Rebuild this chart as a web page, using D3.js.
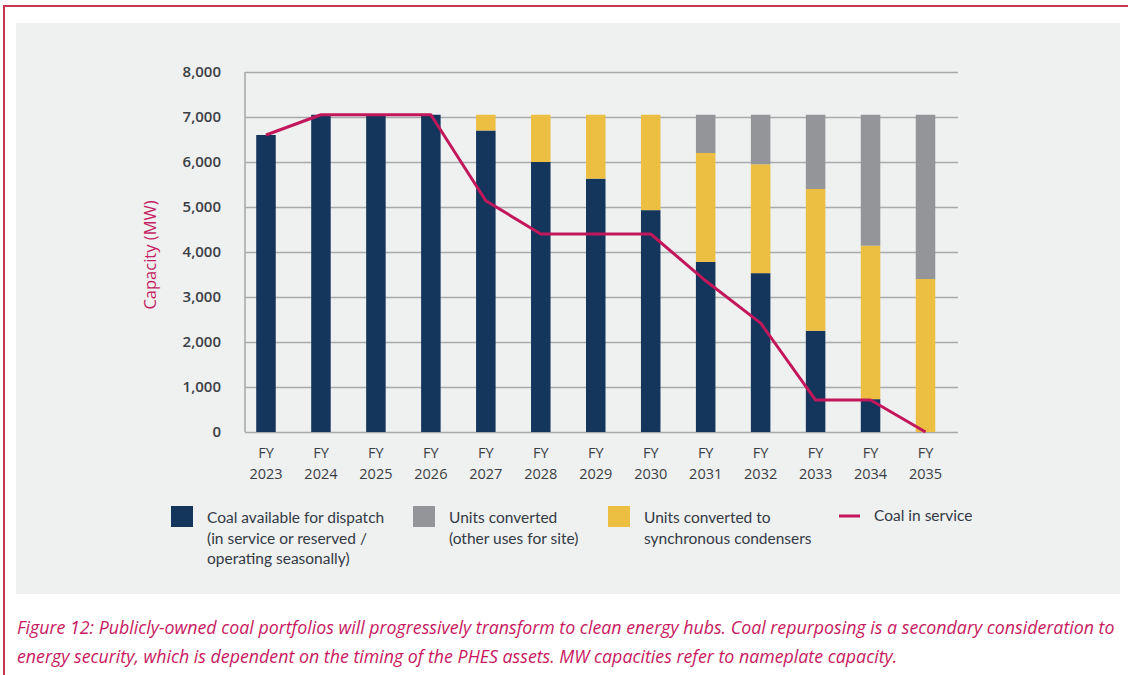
<!DOCTYPE html>
<html>
<head>
<meta charset="utf-8">
<script src="https://cdn.jsdelivr.net/npm/d3@7"></script>
<style>
  body { margin: 0; background: #fff; }
  svg { display: block; }
</style>
</head>
<body>
<div id="coal_chart"></div>
<script>
// data (MW)
const years = ["2023","2024","2025","2026","2027","2028","2029","2030","2031","2032","2033","2034","2035"];
const coalAvailable = [6600, 7050, 7050, 7050, 6700, 6000, 5630, 4930, 3780, 3530, 2250, 730, 0];
const syncCondensers = [0, 0, 0, 0, 350, 1050, 1420, 2120, 2420, 2420, 3150, 3410, 3400];
const otherUses = [0, 0, 0, 0, 0, 0, 0, 0, 850, 1100, 1650, 2910, 3650];
const coalInService = [6600, 7050, 7050, 7050, 5140, 4400, 4400, 4400, 3360, 2420, 710, 710, 0];
const yTicks = [0, 1000, 2000, 3000, 4000, 5000, 6000, 7000, 8000];
const legendItems = [
  { key: "coal", lines: ["Coal available for dispatch", "(in service or reserved /", "operating seasonally)"] },
  { key: "other", lines: ["Units converted", "(other uses for site)"] },
  { key: "sync", lines: ["Units converted to", "synchronous condensers"] },
  { key: "line", lines: ["Coal in service"] }
];
const captionLines = [
  "Figure 12: Publicly-owned coal portfolios will progressively transform to clean energy hubs. Coal repurposing is a secondary consideration to",
  "energy security, which is dependent on the timing of the PHES assets. MW capacities refer to nameplate capacity."
];

const colors = { coal: "#14365c", other: "#939598", sync: "#ecbf42", line: "#c2185b" };
const W = 1128, H = 675;
const plot = { left: 245, right: 958, top: 72, bottom: 432 };

const svg = d3.select("#coal_chart")
  .append("svg")
  .attr("width", W)
  .attr("height", H);

// frame + grey panel
svg.append("rect")
  .attr("x", 4).attr("y", 6)
  .attr("width", W + 10).attr("height", H + 10)
  .attr("fill", "#fff")
  .attr("stroke", "#c8364f")
  .attr("stroke-width", 2);

svg.append("rect")
  .attr("x", 16).attr("y", 23)
  .attr("width", 1104).attr("height", 571)
  .attr("fill", "#eff0f0");

// scales
const y = d3.scaleLinear().domain([0, 8000]).range([plot.bottom, plot.top]);
const x = d3.scaleBand()
  .domain(years)
  .range([238.5, 953])
  .paddingInner(0.645)
  .paddingOuter(0.3225);

// Y axis with gridlines
const yAxis = svg.append("g")
  .attr("transform", `translate(${plot.left},0)`)
  .call(d3.axisLeft(y).tickValues(yTicks).tickFormat(d3.format(",")).tickSize(-(plot.right - plot.left)).tickPadding(24));

yAxis.select(".domain").remove();
yAxis.selectAll(".tick line")
  .attr("stroke", "#a9aaab")
  .attr("stroke-width", 1.6);
yAxis.selectAll("text")
  .attr("fill", "#3b3f45")
  .style("font-family", "'Open Sans', sans-serif")
  .style("font-weight", 600)
  .style("font-size", "15px");

svg.append("line")
  .attr("x1", plot.left).attr("x2", plot.left)
  .attr("y1", plot.top).attr("y2", plot.bottom)
  .attr("stroke", "#a9aaab")
  .attr("stroke-width", 1.6);

svg.append("text")
  .attr("text-anchor", "middle")
  .attr("transform", `translate(156,${(plot.top + plot.bottom) / 2 + 3}) rotate(-90)`)
  .attr("fill", "#c41f62")
  .style("font-family", "'Open Sans', sans-serif")
  .style("font-size", "16.5px")
  .text("Capacity (MW)");

// X labels
const xLab = svg.append("g")
  .selectAll("g")
  .data(years)
  .join("g")
  .attr("transform", d => `translate(${x(d) + x.bandwidth() / 2},0)`);

xLab.append("text")
  .attr("y", 458)
  .attr("text-anchor", "middle")
  .text("FY");
xLab.append("text")
  .attr("y", 479)
  .attr("text-anchor", "middle")
  .text(d => d);
xLab.selectAll("text")
  .attr("fill", "#3b3f45")
  .style("font-family", "'Open Sans', sans-serif")
  .style("font-size", "14.5px");

// stacked bars
const rows = years.map((yr, i) => ({ year: yr, coal: coalAvailable[i], sync: syncCondensers[i], other: otherUses[i] }));
const stack = d3.stack().keys(["coal", "sync", "other"])(rows);

svg.append("g")
  .selectAll("g")
  .data(stack)
  .join("g")
  .attr("fill", d => colors[d.key])
  .selectAll("rect")
  .data(d => d)
  .join("rect")
  .attr("x", d => x(d.data.year))
  .attr("width", x.bandwidth())
  .attr("y", d => y(d[1]))
  .attr("height", d => y(d[0]) - y(d[1]));

// coal in service line
svg.append("path")
  .datum(coalInService)
  .attr("fill", "none")
  .attr("stroke", colors.line)
  .attr("stroke-width", 3)
  .attr("stroke-linejoin", "round")
  .attr("d", d3.line()
    .x((d, i) => x(years[i]) + x.bandwidth() / 2)
    .y(d => y(d)));

// legend
const legendX = [171, 413, 608, 839];
const legend = svg.append("g")
  .selectAll("g")
  .data(legendItems)
  .join("g")
  .attr("transform", (d, i) => `translate(${legendX[i]},506)`);

legend.filter(d => d.key !== "line")
  .append("rect")
  .attr("width", 22)
  .attr("height", 21)
  .attr("fill", d => colors[d.key]);

legend.filter(d => d.key === "line")
  .append("line")
  .attr("x1", 0).attr("x2", 21)
  .attr("y1", 10).attr("y2", 10)
  .attr("stroke", colors.line)
  .attr("stroke-width", 3);

legend.append("text")
  .attr("x", d => d.key === "line" ? 35 : 36)
  .attr("y", d => d.key === "line" ? 15 : 17)
  .attr("fill", "#333a45")
  .style("font-family", "Lato, sans-serif")
  .style("font-size", "15.5px")
  .selectAll("tspan")
  .data(d => d.lines)
  .join("tspan")
  .attr("x", function() { return d3.select(this.parentNode).attr("x"); })
  .attr("dy", (d, i) => i === 0 ? 0 : 20.5)
  .text(d => d);

// caption
svg.append("g")
  .selectAll("text")
  .data(captionLines)
  .join("text")
  .attr("x", 17)
  .attr("y", (d, i) => 634 + i * 29)
  .attr("fill", "#c8195f")
  .style("font-family", "'Open Sans', sans-serif")
  .style("font-style", "italic")
  .style("font-size", "17.8px")
  .text(d => d);
</script>
</body>
</html>
